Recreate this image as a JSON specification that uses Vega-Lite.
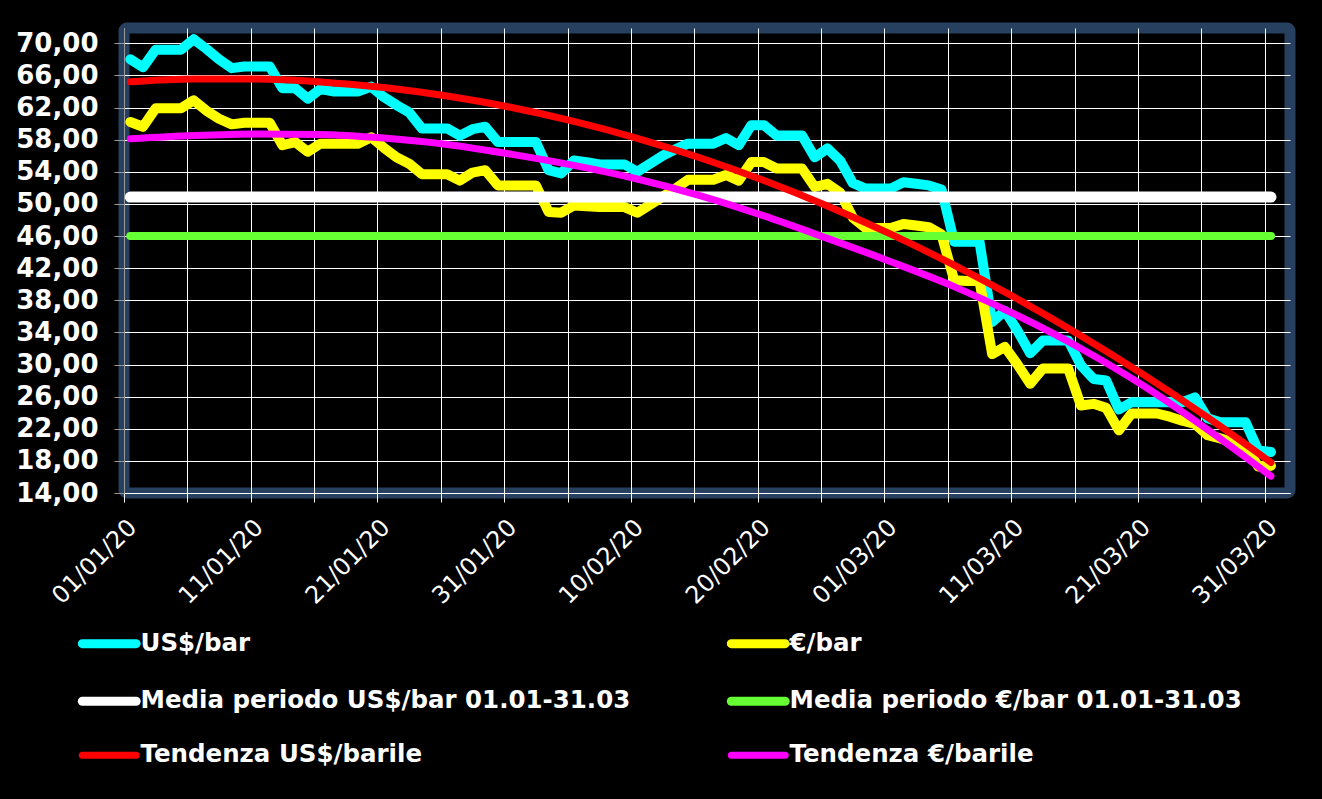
{
  "$schema": "https://vega.github.io/schema/vega-lite/v6.json",
  "width": 1166,
  "height": 465,
  "autosize": {"type": "none"},
  "padding": {"left": 124, "top": 28, "right": 32, "bottom": 306},
  "background": "#000000",
  "config": {
    "view": {"stroke": "#27405F", "strokeWidth": 11, "fill": "#000000", "cornerRadius": 3},
    "font": "DejaVu Sans"
  },
  "encoding": {
    "x": {
      "field": "date", "type": "temporal", "timeUnit": "utcyearmonthdate", "bandPosition": 0.5,
      "scale": {"type": "utc", "domain": [{"year": 2020, "month": 1, "date": 1, "utc": true}, {"year": 2020, "month": 4, "date": 2, "utc": true}]},
      "axis": {
        "title": null,
        "values": [
          {"year": 2020, "month": 1, "date": 1, "utc": true}, {"year": 2020, "month": 1, "date": 6, "utc": true},
          {"year": 2020, "month": 1, "date": 11, "utc": true}, {"year": 2020, "month": 1, "date": 16, "utc": true},
          {"year": 2020, "month": 1, "date": 21, "utc": true}, {"year": 2020, "month": 1, "date": 26, "utc": true},
          {"year": 2020, "month": 1, "date": 31, "utc": true}, {"year": 2020, "month": 2, "date": 5, "utc": true},
          {"year": 2020, "month": 2, "date": 10, "utc": true}, {"year": 2020, "month": 2, "date": 15, "utc": true},
          {"year": 2020, "month": 2, "date": 20, "utc": true}, {"year": 2020, "month": 2, "date": 25, "utc": true},
          {"year": 2020, "month": 3, "date": 1, "utc": true}, {"year": 2020, "month": 3, "date": 6, "utc": true},
          {"year": 2020, "month": 3, "date": 11, "utc": true}, {"year": 2020, "month": 3, "date": 16, "utc": true},
          {"year": 2020, "month": 3, "date": 21, "utc": true}, {"year": 2020, "month": 3, "date": 26, "utc": true},
          {"year": 2020, "month": 3, "date": 31, "utc": true}
        ],
        "labelExpr": "(round((datum.value - utc(2020,0,1)) / 86400000) % 10 == 0) ? utcFormat(datum.value, '%d/%m/%y') : ''",
        "labelAngle": -45,
        "labelColor": "#FFFFFF",
        "labelFont": "DejaVu Sans",
        "labelFontSize": 24,
        "labelOverlap": false,
        "labelBound": false,
        "labelFlush": false,
        "labelPadding": 13,
        "tickSize": 9,
        "tickColor": "#FFFFFF",
        "domainColor": "#FFFFFF",
        "grid": true,
        "gridColor": "#FFFFFF",
        "gridWidth": 1,
        "gridOpacity": 1
      }
    },
    "y": {
      "field": "value", "type": "quantitative",
      "scale": {"domain": [14, 71.9], "nice": false, "zero": false},
      "axis": {
        "title": null,
        "values": [14, 18, 22, 26, 30, 34, 38, 42, 46, 50, 54, 58, 62, 66, 70],
        "labelExpr": "replace(format(datum.value, '.2f'), '.', ',')",
        "labelColor": "#FFFFFF",
        "labelFont": "DejaVu Sans",
        "labelFontSize": 26,
        "labelFontWeight": "bold",
        "labelOverlap": false,
        "labelBound": false,
        "labelFlush": false,
        "labelPadding": 16,
        "tickSize": 10,
        "tickColor": "#999999",
        "domainColor": "#999999",
        "grid": true,
        "gridColor": "#FFFFFF",
        "gridWidth": 1,
        "gridOpacity": 1
      }
    },
    "color": {
      "field": "series", "type": "nominal",
      "scale": {
        "domain": ["US$/bar", "Media periodo US$/bar 01.01-31.03", "Tendenza US$/barile", "€/bar", "Media periodo €/bar 01.01-31.03", "Tendenza €/barile"],
        "range": ["#00FFFF", "#FFFFFF", "#FF0000", "#FFFF00", "#66FF33", "#FF00FF"]
      },
      "legend": {
        "title": null,
        "orient": "none",
        "legendX": -27,
        "legendY": 603,
        "columns": 2,
        "columnPadding": 82,
        "rowPadding": 21,
        "padding": 0,
        "labelColor": "#FFFFFF",
        "labelFont": "DejaVu Sans",
        "labelFontWeight": "bold",
        "labelFontSize": 24.5,
        "labelLimit": 1000,
        "labelOffset": 19,
        "symbolType": "stroke",
        "symbolSize": 2900,
        "symbolStrokeWidth": 9,
        "encode": {
          "symbols": {
            "update": {
              "strokeCap": {"value": "round"},
              "strokeWidth": {"signal": "indexof(['Tendenza US$/barile', 'Tendenza €/barile'], datum.value) >= 0 ? 7 : 9"}
            }
          }
        }
      }
    }
  },
  "layer": [
    {
      "data": {"values": [
        {"date": "2020-01-01", "series": "US$/bar", "value": 68.0},
        {"date": "2020-01-02", "series": "US$/bar", "value": 67.0},
        {"date": "2020-01-03", "series": "US$/bar", "value": 69.2},
        {"date": "2020-01-04", "series": "US$/bar", "value": 69.2},
        {"date": "2020-01-05", "series": "US$/bar", "value": 69.2},
        {"date": "2020-01-06", "series": "US$/bar", "value": 70.5},
        {"date": "2020-01-07", "series": "US$/bar", "value": 69.3},
        {"date": "2020-01-08", "series": "US$/bar", "value": 68.0},
        {"date": "2020-01-09", "series": "US$/bar", "value": 66.9},
        {"date": "2020-01-10", "series": "US$/bar", "value": 67.1},
        {"date": "2020-01-11", "series": "US$/bar", "value": 67.1},
        {"date": "2020-01-12", "series": "US$/bar", "value": 67.1},
        {"date": "2020-01-13", "series": "US$/bar", "value": 64.4},
        {"date": "2020-01-14", "series": "US$/bar", "value": 64.4},
        {"date": "2020-01-15", "series": "US$/bar", "value": 63.1},
        {"date": "2020-01-16", "series": "US$/bar", "value": 64.3},
        {"date": "2020-01-17", "series": "US$/bar", "value": 64.0},
        {"date": "2020-01-18", "series": "US$/bar", "value": 64.0},
        {"date": "2020-01-19", "series": "US$/bar", "value": 64.0},
        {"date": "2020-01-20", "series": "US$/bar", "value": 64.6},
        {"date": "2020-01-21", "series": "US$/bar", "value": 63.3},
        {"date": "2020-01-22", "series": "US$/bar", "value": 62.3},
        {"date": "2020-01-23", "series": "US$/bar", "value": 61.4},
        {"date": "2020-01-24", "series": "US$/bar", "value": 59.4},
        {"date": "2020-01-25", "series": "US$/bar", "value": 59.4},
        {"date": "2020-01-26", "series": "US$/bar", "value": 59.4},
        {"date": "2020-01-27", "series": "US$/bar", "value": 58.5},
        {"date": "2020-01-28", "series": "US$/bar", "value": 59.3},
        {"date": "2020-01-29", "series": "US$/bar", "value": 59.6},
        {"date": "2020-01-30", "series": "US$/bar", "value": 57.7},
        {"date": "2020-01-31", "series": "US$/bar", "value": 57.7},
        {"date": "2020-02-01", "series": "US$/bar", "value": 57.7},
        {"date": "2020-02-02", "series": "US$/bar", "value": 57.7},
        {"date": "2020-02-03", "series": "US$/bar", "value": 54.2},
        {"date": "2020-02-04", "series": "US$/bar", "value": 53.8},
        {"date": "2020-02-05", "series": "US$/bar", "value": 55.4},
        {"date": "2020-02-06", "series": "US$/bar", "value": 55.2},
        {"date": "2020-02-07", "series": "US$/bar", "value": 54.9},
        {"date": "2020-02-08", "series": "US$/bar", "value": 54.9},
        {"date": "2020-02-09", "series": "US$/bar", "value": 54.9},
        {"date": "2020-02-10", "series": "US$/bar", "value": 54.0},
        {"date": "2020-02-11", "series": "US$/bar", "value": 55.0},
        {"date": "2020-02-12", "series": "US$/bar", "value": 56.0},
        {"date": "2020-02-13", "series": "US$/bar", "value": 56.8},
        {"date": "2020-02-14", "series": "US$/bar", "value": 57.5},
        {"date": "2020-02-15", "series": "US$/bar", "value": 57.5},
        {"date": "2020-02-16", "series": "US$/bar", "value": 57.5},
        {"date": "2020-02-17", "series": "US$/bar", "value": 58.2},
        {"date": "2020-02-18", "series": "US$/bar", "value": 57.3},
        {"date": "2020-02-19", "series": "US$/bar", "value": 59.8},
        {"date": "2020-02-20", "series": "US$/bar", "value": 59.8},
        {"date": "2020-02-21", "series": "US$/bar", "value": 58.5},
        {"date": "2020-02-22", "series": "US$/bar", "value": 58.5},
        {"date": "2020-02-23", "series": "US$/bar", "value": 58.5},
        {"date": "2020-02-24", "series": "US$/bar", "value": 55.8},
        {"date": "2020-02-25", "series": "US$/bar", "value": 56.9},
        {"date": "2020-02-26", "series": "US$/bar", "value": 55.4},
        {"date": "2020-02-27", "series": "US$/bar", "value": 52.6},
        {"date": "2020-02-28", "series": "US$/bar", "value": 51.9},
        {"date": "2020-02-29", "series": "US$/bar", "value": 51.9},
        {"date": "2020-03-01", "series": "US$/bar", "value": 51.9},
        {"date": "2020-03-02", "series": "US$/bar", "value": 52.7},
        {"date": "2020-03-03", "series": "US$/bar", "value": 52.5},
        {"date": "2020-03-04", "series": "US$/bar", "value": 52.3},
        {"date": "2020-03-05", "series": "US$/bar", "value": 51.8},
        {"date": "2020-03-06", "series": "US$/bar", "value": 45.3},
        {"date": "2020-03-07", "series": "US$/bar", "value": 45.3},
        {"date": "2020-03-08", "series": "US$/bar", "value": 45.3},
        {"date": "2020-03-09", "series": "US$/bar", "value": 35.3},
        {"date": "2020-03-10", "series": "US$/bar", "value": 36.7},
        {"date": "2020-03-11", "series": "US$/bar", "value": 34.2},
        {"date": "2020-03-12", "series": "US$/bar", "value": 31.4},
        {"date": "2020-03-13", "series": "US$/bar", "value": 33.0},
        {"date": "2020-03-14", "series": "US$/bar", "value": 33.0},
        {"date": "2020-03-15", "series": "US$/bar", "value": 33.0},
        {"date": "2020-03-16", "series": "US$/bar", "value": 29.9},
        {"date": "2020-03-17", "series": "US$/bar", "value": 28.2},
        {"date": "2020-03-18", "series": "US$/bar", "value": 28.0},
        {"date": "2020-03-19", "series": "US$/bar", "value": 24.4},
        {"date": "2020-03-20", "series": "US$/bar", "value": 25.3},
        {"date": "2020-03-21", "series": "US$/bar", "value": 25.3},
        {"date": "2020-03-22", "series": "US$/bar", "value": 25.3},
        {"date": "2020-03-23", "series": "US$/bar", "value": 25.3},
        {"date": "2020-03-24", "series": "US$/bar", "value": 25.3},
        {"date": "2020-03-25", "series": "US$/bar", "value": 25.9},
        {"date": "2020-03-26", "series": "US$/bar", "value": 23.3},
        {"date": "2020-03-27", "series": "US$/bar", "value": 22.8},
        {"date": "2020-03-28", "series": "US$/bar", "value": 22.8},
        {"date": "2020-03-29", "series": "US$/bar", "value": 22.8},
        {"date": "2020-03-30", "series": "US$/bar", "value": 19.3},
        {"date": "2020-03-31", "series": "US$/bar", "value": 19.1},
        {"date": "2020-01-01", "series": "€/bar", "value": 60.2},
        {"date": "2020-01-02", "series": "€/bar", "value": 59.6},
        {"date": "2020-01-03", "series": "€/bar", "value": 61.9},
        {"date": "2020-01-04", "series": "€/bar", "value": 61.9},
        {"date": "2020-01-05", "series": "€/bar", "value": 61.9},
        {"date": "2020-01-06", "series": "€/bar", "value": 62.9},
        {"date": "2020-01-07", "series": "€/bar", "value": 61.6},
        {"date": "2020-01-08", "series": "€/bar", "value": 60.6},
        {"date": "2020-01-09", "series": "€/bar", "value": 59.9},
        {"date": "2020-01-10", "series": "€/bar", "value": 60.1},
        {"date": "2020-01-11", "series": "€/bar", "value": 60.1},
        {"date": "2020-01-12", "series": "€/bar", "value": 60.1},
        {"date": "2020-01-13", "series": "€/bar", "value": 57.3},
        {"date": "2020-01-14", "series": "€/bar", "value": 57.7},
        {"date": "2020-01-15", "series": "€/bar", "value": 56.5},
        {"date": "2020-01-16", "series": "€/bar", "value": 57.5},
        {"date": "2020-01-17", "series": "€/bar", "value": 57.5},
        {"date": "2020-01-18", "series": "€/bar", "value": 57.5},
        {"date": "2020-01-19", "series": "€/bar", "value": 57.5},
        {"date": "2020-01-20", "series": "€/bar", "value": 58.3},
        {"date": "2020-01-21", "series": "€/bar", "value": 57.0},
        {"date": "2020-01-22", "series": "€/bar", "value": 55.8},
        {"date": "2020-01-23", "series": "€/bar", "value": 55.0},
        {"date": "2020-01-24", "series": "€/bar", "value": 53.7},
        {"date": "2020-01-25", "series": "€/bar", "value": 53.7},
        {"date": "2020-01-26", "series": "€/bar", "value": 53.7},
        {"date": "2020-01-27", "series": "€/bar", "value": 52.9},
        {"date": "2020-01-28", "series": "€/bar", "value": 53.9},
        {"date": "2020-01-29", "series": "€/bar", "value": 54.2},
        {"date": "2020-01-30", "series": "€/bar", "value": 52.3},
        {"date": "2020-01-31", "series": "€/bar", "value": 52.3},
        {"date": "2020-02-01", "series": "€/bar", "value": 52.3},
        {"date": "2020-02-02", "series": "€/bar", "value": 52.3},
        {"date": "2020-02-03", "series": "€/bar", "value": 49.0},
        {"date": "2020-02-04", "series": "€/bar", "value": 48.9},
        {"date": "2020-02-05", "series": "€/bar", "value": 49.8},
        {"date": "2020-02-06", "series": "€/bar", "value": 49.7},
        {"date": "2020-02-07", "series": "€/bar", "value": 49.6},
        {"date": "2020-02-08", "series": "€/bar", "value": 49.6},
        {"date": "2020-02-09", "series": "€/bar", "value": 49.6},
        {"date": "2020-02-10", "series": "€/bar", "value": 48.9},
        {"date": "2020-02-11", "series": "€/bar", "value": 49.9},
        {"date": "2020-02-12", "series": "€/bar", "value": 50.9},
        {"date": "2020-02-13", "series": "€/bar", "value": 51.9},
        {"date": "2020-02-14", "series": "€/bar", "value": 53.0},
        {"date": "2020-02-15", "series": "€/bar", "value": 53.0},
        {"date": "2020-02-16", "series": "€/bar", "value": 53.0},
        {"date": "2020-02-17", "series": "€/bar", "value": 53.6},
        {"date": "2020-02-18", "series": "€/bar", "value": 52.9},
        {"date": "2020-02-19", "series": "€/bar", "value": 55.2},
        {"date": "2020-02-20", "series": "€/bar", "value": 55.2},
        {"date": "2020-02-21", "series": "€/bar", "value": 54.4},
        {"date": "2020-02-22", "series": "€/bar", "value": 54.4},
        {"date": "2020-02-23", "series": "€/bar", "value": 54.4},
        {"date": "2020-02-24", "series": "€/bar", "value": 52.1},
        {"date": "2020-02-25", "series": "€/bar", "value": 52.5},
        {"date": "2020-02-26", "series": "€/bar", "value": 51.4},
        {"date": "2020-02-27", "series": "€/bar", "value": 48.3},
        {"date": "2020-02-28", "series": "€/bar", "value": 47.0},
        {"date": "2020-02-29", "series": "€/bar", "value": 47.0},
        {"date": "2020-03-01", "series": "€/bar", "value": 47.0},
        {"date": "2020-03-02", "series": "€/bar", "value": 47.5},
        {"date": "2020-03-03", "series": "€/bar", "value": 47.3},
        {"date": "2020-03-04", "series": "€/bar", "value": 47.1},
        {"date": "2020-03-05", "series": "€/bar", "value": 46.2},
        {"date": "2020-03-06", "series": "€/bar", "value": 40.5},
        {"date": "2020-03-07", "series": "€/bar", "value": 40.4},
        {"date": "2020-03-08", "series": "€/bar", "value": 40.4},
        {"date": "2020-03-09", "series": "€/bar", "value": 31.3},
        {"date": "2020-03-10", "series": "€/bar", "value": 32.2},
        {"date": "2020-03-11", "series": "€/bar", "value": 30.0},
        {"date": "2020-03-12", "series": "€/bar", "value": 27.6},
        {"date": "2020-03-13", "series": "€/bar", "value": 29.5},
        {"date": "2020-03-14", "series": "€/bar", "value": 29.5},
        {"date": "2020-03-15", "series": "€/bar", "value": 29.5},
        {"date": "2020-03-16", "series": "€/bar", "value": 24.9},
        {"date": "2020-03-17", "series": "€/bar", "value": 25.1},
        {"date": "2020-03-18", "series": "€/bar", "value": 24.6},
        {"date": "2020-03-19", "series": "€/bar", "value": 21.8},
        {"date": "2020-03-20", "series": "€/bar", "value": 23.9},
        {"date": "2020-03-21", "series": "€/bar", "value": 23.9},
        {"date": "2020-03-22", "series": "€/bar", "value": 23.9},
        {"date": "2020-03-23", "series": "€/bar", "value": 23.5},
        {"date": "2020-03-24", "series": "€/bar", "value": 23.0},
        {"date": "2020-03-25", "series": "€/bar", "value": 22.6},
        {"date": "2020-03-26", "series": "€/bar", "value": 21.2},
        {"date": "2020-03-27", "series": "€/bar", "value": 20.8},
        {"date": "2020-03-28", "series": "€/bar", "value": 20.3},
        {"date": "2020-03-29", "series": "€/bar", "value": 19.8},
        {"date": "2020-03-30", "series": "€/bar", "value": 17.3},
        {"date": "2020-03-31", "series": "€/bar", "value": 17.4}
      ]},
      "mark": {"type": "line", "strokeWidth": 10, "strokeJoin": "round", "strokeCap": "round"}
    },
    {
      "data": {"values": [
        {"date": "2020-01-01", "series": "Media periodo US$/bar 01.01-31.03", "value": 50.85},
        {"date": "2020-03-31", "series": "Media periodo US$/bar 01.01-31.03", "value": 50.85}
      ]},
      "mark": {"type": "line", "strokeWidth": 11, "strokeCap": "round"}
    },
    {
      "data": {"values": [
        {"date": "2020-01-01", "series": "Media periodo €/bar 01.01-31.03", "value": 46.0},
        {"date": "2020-03-31", "series": "Media periodo €/bar 01.01-31.03", "value": 46.0}
      ]},
      "mark": {"type": "line", "strokeWidth": 8, "strokeCap": "round"}
    },
    {
      "data": {"values": [
        {"date": "2020-01-01", "series": "Tendenza US$/barile", "value": 65.2},
        {"date": "2020-01-06", "series": "Tendenza US$/barile", "value": 65.55},
        {"date": "2020-01-11", "series": "Tendenza US$/barile", "value": 65.55},
        {"date": "2020-01-16", "series": "Tendenza US$/barile", "value": 65.19},
        {"date": "2020-01-21", "series": "Tendenza US$/barile", "value": 64.49},
        {"date": "2020-01-26", "series": "Tendenza US$/barile", "value": 63.43},
        {"date": "2020-01-31", "series": "Tendenza US$/barile", "value": 62.03},
        {"date": "2020-02-05", "series": "Tendenza US$/barile", "value": 60.27},
        {"date": "2020-02-10", "series": "Tendenza US$/barile", "value": 58.17},
        {"date": "2020-02-15", "series": "Tendenza US$/barile", "value": 55.71},
        {"date": "2020-02-20", "series": "Tendenza US$/barile", "value": 52.9},
        {"date": "2020-02-25", "series": "Tendenza US$/barile", "value": 49.74},
        {"date": "2020-03-01", "series": "Tendenza US$/barile", "value": 46.23},
        {"date": "2020-03-06", "series": "Tendenza US$/barile", "value": 42.37},
        {"date": "2020-03-11", "series": "Tendenza US$/barile", "value": 38.15},
        {"date": "2020-03-16", "series": "Tendenza US$/barile", "value": 33.59},
        {"date": "2020-03-21", "series": "Tendenza US$/barile", "value": 28.68},
        {"date": "2020-03-26", "series": "Tendenza US$/barile", "value": 23.41},
        {"date": "2020-03-31", "series": "Tendenza US$/barile", "value": 17.8},
        {"date": "2020-01-01", "series": "Tendenza €/barile", "value": 58.1},
        {"date": "2020-01-06", "series": "Tendenza €/barile", "value": 58.5},
        {"date": "2020-01-11", "series": "Tendenza €/barile", "value": 58.7},
        {"date": "2020-01-16", "series": "Tendenza €/barile", "value": 58.65},
        {"date": "2020-01-21", "series": "Tendenza €/barile", "value": 58.2},
        {"date": "2020-01-26", "series": "Tendenza €/barile", "value": 57.4},
        {"date": "2020-01-31", "series": "Tendenza €/barile", "value": 56.2},
        {"date": "2020-02-05", "series": "Tendenza €/barile", "value": 54.8},
        {"date": "2020-02-10", "series": "Tendenza €/barile", "value": 53.1},
        {"date": "2020-02-15", "series": "Tendenza €/barile", "value": 51.0},
        {"date": "2020-02-20", "series": "Tendenza €/barile", "value": 48.5},
        {"date": "2020-02-25", "series": "Tendenza €/barile", "value": 45.7},
        {"date": "2020-03-01", "series": "Tendenza €/barile", "value": 42.8},
        {"date": "2020-03-06", "series": "Tendenza €/barile", "value": 39.7},
        {"date": "2020-03-11", "series": "Tendenza €/barile", "value": 36.1},
        {"date": "2020-03-16", "series": "Tendenza €/barile", "value": 32.0},
        {"date": "2020-03-21", "series": "Tendenza €/barile", "value": 27.3},
        {"date": "2020-03-26", "series": "Tendenza €/barile", "value": 21.9},
        {"date": "2020-03-31", "series": "Tendenza €/barile", "value": 16.1}
      ]},
      "mark": {"type": "line", "strokeWidth": 7, "strokeCap": "round", "interpolate": "monotone"}
    }
  ]
}
